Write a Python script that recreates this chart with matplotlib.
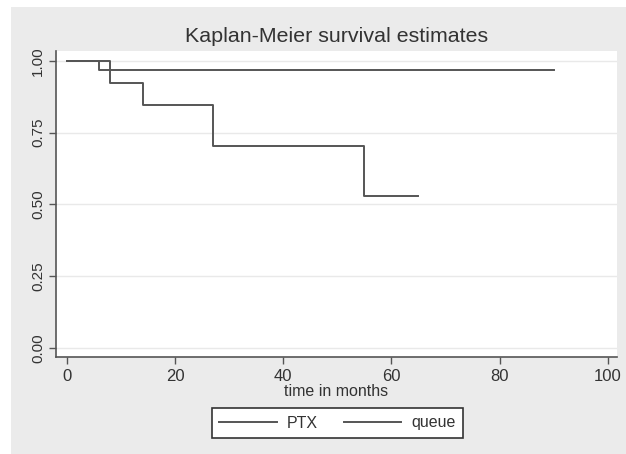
import matplotlib.pyplot as plt
from matplotlib.patches import Rectangle

plt.rcParams['font.family'] = ['Liberation Sans', 'DejaVu Sans']

# data
ptx_time = [0, 8, 14, 27, 55, 65]
ptx_surv = [1.0, 0.923, 0.846, 0.705, 0.529, 0.529]
queue_time = [0, 6, 90]
queue_surv = [1.0, 0.968, 0.968]
x_ticks = [0, 20, 40, 60, 80, 100]
y_ticks = [0.00, 0.25, 0.50, 0.75, 1.00]

W, H = 626, 454
fig = plt.figure(figsize=(W / 100, H / 100), dpi=100)
fig.patch.set_facecolor('white')
fig.patches.append(Rectangle((11 / W, 0), 1 - 11 / W, (H - 7) / H,
                             transform=fig.transFigure, facecolor='#ebebeb',
                             edgecolor='none', zorder=-5))

ax = fig.add_axes([56 / W, (H - 357) / H, (617 - 56) / W, (357 - 51) / H])
ax.set_facecolor('white')

line_kw = dict(where='post', color='#555555', lw=1.4)
ax.step(ptx_time, ptx_surv, label='PTX', **line_kw)
ax.step(queue_time, queue_surv, label='queue', **line_kw)

ax.set_xlim(-2.0, 101.7)
ax.set_ylim(-0.031, 1.034)
ax.set_xticks(x_ticks)
ax.set_yticks(y_ticks)
ax.set_yticklabels([f"{v:.2f}" for v in y_ticks], rotation=90, va='center')
ax.tick_params(axis='both', direction='out', length=5, width=1,
               color='#555555', labelsize=12, labelcolor='#333333')
ax.tick_params(axis='y', labelsize=11, pad=3)
ax.grid(axis='y', color='#e9e9e9', lw=1)
ax.set_axisbelow(True)

for s in ['top', 'right']:
    ax.spines[s].set_visible(False)
for s in ['left', 'bottom']:
    ax.spines[s].set_color('#555555')
    ax.spines[s].set_linewidth(1.2)

ax.set_xlabel('time in months', fontsize=11.5, color='#333333', labelpad=0)
fig.text(0.5375, (H - 37) / H, 'Kaplan-Meier survival estimates',
         ha='center', va='center', fontsize=15.4, color='#333333')

leg = fig.legend(loc='center', bbox_to_anchor=(337.5 / W, (H - 423) / H),
                 ncol=2, frameon=True, fancybox=False, fontsize=11.5,
                 handlelength=3.6, columnspacing=1.6, handletextpad=0.65,
                 borderpad=0.45, framealpha=1)
leg.get_frame().set_facecolor('white')
leg.get_frame().set_edgecolor('#333333')
leg.get_frame().set_linewidth(1.2)
for t in leg.get_texts():
    t.set_color('#333333')

fig.savefig('out.png', dpi=100)
